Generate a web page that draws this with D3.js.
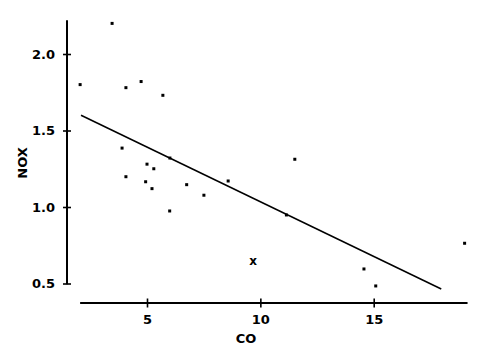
<!DOCTYPE html>
<html lang="en">
<head>
    <meta charset="utf-8" />
    <script src="https://d3js.org/d3.v7.min.js"></script>
    <style>
        body { margin: 0; background: #fff; }
        svg text { font-family: "DejaVu Sans", sans-serif; fill: #000; }
    </style>
</head>
<body>
    <script>
        const w = 490;
        const h = 355;

        // readings: CO on x, NOX on y
        const coValues = [2.05, 3.46, 4.07, 4.74, 5.70, 3.90, 4.07, 5.00, 5.30, 4.94, 5.22,
            6.01, 6.00, 6.75, 7.51, 8.58, 11.52, 11.15, 14.57, 15.09, 19.01];
        const noxValues = [1.80, 2.20, 1.78, 1.82, 1.73, 1.385, 1.198, 1.28, 1.25, 1.165, 1.12,
            1.32, 0.974, 1.146, 1.077, 1.17, 1.312, 0.948, 0.595, 0.484, 0.763];

        // the point drawn as an "x"
        const markCO = [9.68];
        const markNOX = [0.645];

        // fitted line endpoints
        const fitCO = [2.09, 17.98];
        const fitNOX = [1.60, 0.464];

        const xTicks = [5, 10, 15];
        const yTicks = [0.5, 1.0, 1.5, 2.0];

        const xScale = d3.scaleLinear()
            .domain([5, 15])
            .range([147, 373.7]);

        const yScale = d3.scaleLinear()
            .domain([0.5, 2.0])
            .range([283.5, 54]);

        const svg = d3.select("body")
            .append("svg")
            .attr("width", w)
            .attr("height", h);

        // y axis, ticks cross the line
        const yAxis = d3.axisLeft(yScale)
            .tickValues(yTicks)
            .tickFormat(d3.format(".1f"))
            .tickSize(4)
            .tickPadding(8);

        const yG = svg.append("g")
            .attr("transform", "translate(67,0)")
            .call(yAxis);
        yG.select(".domain").remove();
        yG.selectAll(".tick line")
            .attr("x1", -4).attr("x2", 4)
            .attr("stroke", "#000").attr("stroke-width", 1.6);
        yG.selectAll(".tick text")
            .style("font-size", "13px")
            .style("font-weight", "600")
            .attr("x", -12);
        yG.append("line")
            .attr("y1", yScale(2.22)).attr("y2", yScale(0.495))
            .attr("stroke", "#000").attr("stroke-width", 2);

        // x axis
        const xAxis = d3.axisBottom(xScale)
            .tickValues(xTicks)
            .tickFormat(d => String(d))
            .tickSize(4)
            .tickPadding(8);

        const xG = svg.append("g")
            .attr("transform", "translate(0,303)")
            .call(xAxis);
        xG.select(".domain").remove();
        xG.selectAll(".tick line")
            .attr("y1", -4.5).attr("y2", 4.5)
            .attr("stroke", "#000").attr("stroke-width", 1.6);
        xG.selectAll(".tick text")
            .style("font-size", "13px")
            .style("font-weight", "600");
        xG.append("line")
            .attr("x1", xScale(2.05)).attr("x2", xScale(19.14))
            .attr("stroke", "#000").attr("stroke-width", 2);

        // axis titles
        svg.append("text")
            .attr("x", 246)
            .attr("y", 343)
            .attr("text-anchor", "middle")
            .style("font-size", "13px")
            .style("font-weight", "600")
            .text("CO");

        svg.append("text")
            .attr("transform", "translate(27,163) rotate(-90)")
            .attr("text-anchor", "middle")
            .style("font-size", "13px")
            .style("font-weight", "600")
            .text("NOX");

        // fitted line
        svg.append("line")
            .attr("x1", xScale(fitCO[0])).attr("y1", yScale(fitNOX[0]))
            .attr("x2", xScale(fitCO[1])).attr("y2", yScale(fitNOX[1]))
            .attr("stroke", "#000").attr("stroke-width", 1.5);

        // points
        svg.selectAll("rect.dot")
            .data(coValues)
            .enter()
            .append("rect")
            .attr("class", "dot")
            .attr("x", d => xScale(d) - 1.5)
            .attr("y", (d, i) => yScale(noxValues[i]) - 1.5)
            .attr("width", 3)
            .attr("height", 3)
            .attr("fill", "#000");

        svg.selectAll("text.mark")
            .data(markCO)
            .enter()
            .append("text")
            .attr("class", "mark")
            .attr("x", d => xScale(d))
            .attr("y", (d, i) => yScale(markNOX[i]) + 4)
            .attr("text-anchor", "middle")
            .style("font-size", "12px")
            .style("font-weight", "bold")
            .text("x");
    </script>
</body>
</html>
